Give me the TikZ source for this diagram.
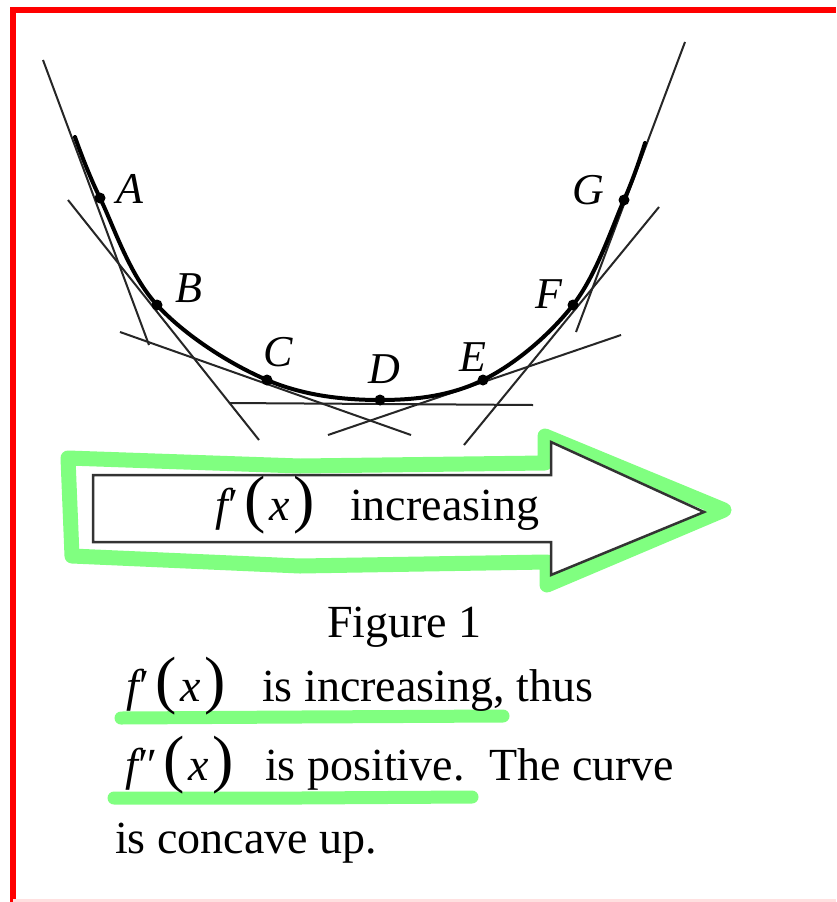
\documentclass[tikz,border=0pt]{standalone}
\usepackage{fontspec}
\setmainfont{Liberation Serif}
\definecolor{hl}{RGB}{128,255,128}
\definecolor{redb}{RGB}{255,0,0}
\newcommand{\bigp}[1]{{\fontsize{64}{64}\selectfont #1}}
\newcommand{\fpx}[1]{{\itshape f}\kern1pt#1\kern5pt\bigp{(}\kern4pt{\itshape x}\kern4pt\bigp{)}}
\begin{document}
\begin{tikzpicture}[x=1pt,y=-1pt,
  txt/.style={anchor=base west,inner sep=0pt,font=\fontsize{46}{50}\selectfont},
  lab/.style={inner sep=0pt,font=\fontsize{44}{48}\selectfont\itshape},
  tan/.style={line width=2pt,black!85},
  dot/.style={circle,fill=black,inner sep=0pt,minimum size=11pt},
  hlline/.style={hl,line width=13pt,line cap=round,line join=round}]
\useasboundingbox (0,0) rectangle (836,902);
\fill[white] (0,0) rectangle (836,902);
% border
\draw[redb,line width=6pt] (13,902) -- (13,10) -- (836,10);
\draw[red!12,line width=3pt] (13,900.5) -- (836,900.5);

% tangent lines
\coordinate (tA1) at (43,60);   \coordinate (tA2) at (149,345);
\coordinate (tB1) at (68,200);  \coordinate (tB2) at (259,440);
\coordinate (tC1) at (120,332); \coordinate (tC2) at (411,435);
\coordinate (tD1) at (229,403); \coordinate (tD2) at (533,405);
\coordinate (tE1) at (328,435); \coordinate (tE2) at (621,335);
\coordinate (tF1) at (464,445); \coordinate (tF2) at (659,207);
\coordinate (tG1) at (685,42);  \coordinate (tG2) at (576,332);
\foreach \t in {A,B,C,D,E,F,G} \draw[tan] (t\t1) -- (t\t2);

% curve
\draw[line width=4pt,line cap=round] plot[smooth,tension=0.6] coordinates
  {(75,137) (100,198) (157,305) (267,380) (380,400) (483,380) (573,305) (624,200) (645,143)};

% points
\node[dot] (A) at (100,198) {};
\node[dot] (B) at (157,305) {};
\node[dot] (C) at (267,380) {};
\node[dot] (D) at (380,400) {};
\node[dot] (E) at (483,380) {};
\node[dot] (F) at (573,305) {};
\node[dot] (G) at (624,200) {};
\node[lab] (lA) at (130,189) {A};
\node[lab] (lB) at (189,288) {B};
\node[lab] (lC) at (278,352) {C};
\node[lab] (lD) at (384,369) {D};
\node[lab] (lE) at (473,357) {E};
\node[lab] (lF) at (549,294) {F};
\node[lab] (lG) at (588,190) {G};

% green highlight around arrow
\draw[hlline,line width=15pt] (68,458) -- (300,466) -- (545,463) -- (545,436) -- (724,510)
  -- (547,585) -- (547,562) -- (300,566) -- (72,556) -- cycle;
% arrow
\draw[line width=2.5pt,black!80,fill=white,line join=miter] (93,475) -- (551,475) -- (551,442) -- (704,512)
  -- (551,575) -- (551,542) -- (93,542) -- cycle;
\node[txt] (am) at (215,520) {\fpx{′}};
\node[txt] (at) at (350,520) {increasing};

% caption
\node[txt] (fig) at (327,637) {Figure 1};
\draw[hlline] (121,718) -- (300,717) -- (503,716);
\draw[hlline] (114,798) -- (300,798) -- (472,797);
\node[txt] (m1) at (126,701) {\fpx{′}};
\node[txt] (t1) at (262,701) {is increasing, thus};
\node[txt] (m2) at (125,780) {\fpx{″}};
\node[txt] (t2) at (265,780) {is positive.};
\node[txt] (t2b) at (489,780) {The curve};
\node[txt] (t3) at (115,853) {is concave up.};
\end{tikzpicture}
\end{document}
